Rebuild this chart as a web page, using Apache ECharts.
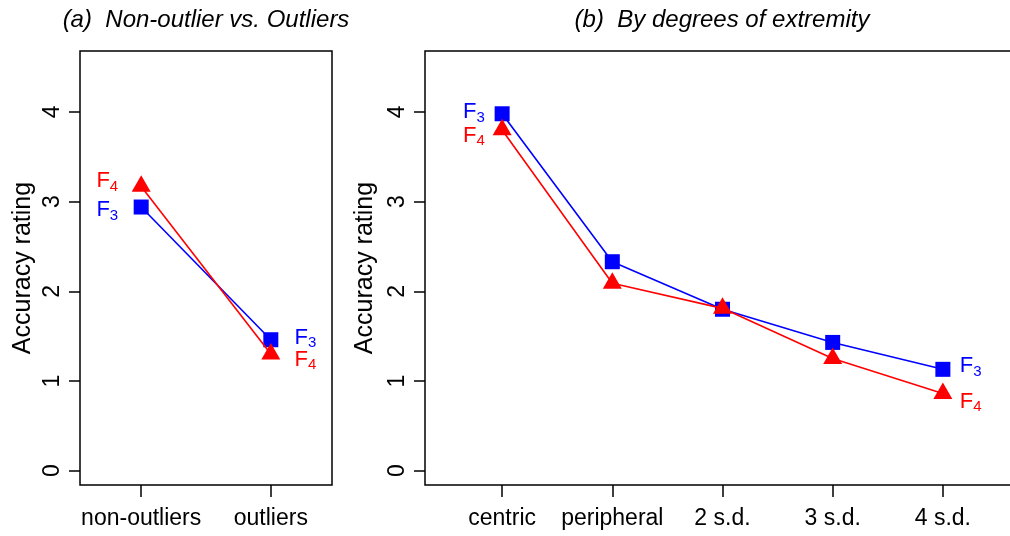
<!DOCTYPE html>
<html><head><meta charset="utf-8">
<script src="https://cdn.jsdelivr.net/npm/echarts@6/dist/echarts.min.js"></script>
<style>html,body{margin:0;padding:0;background:#fff}#c{width:1010px;height:536px}</style>
</head><body><div id="c"></div><script>
// ---- data ----
const groupsA = ['non-outliers', 'outliers'];
const f3A = [2.94, 1.46];
const f4A = [3.17, 1.30];
const groupsB = ['centric', 'peripheral', '2 s.d.', '3 s.d.', '4 s.d.'];
const f3B = [3.98, 2.33, 1.80, 1.43, 1.13];
const f4B = [3.80, 2.09, 1.81, 1.25, 0.86];
const yTicks = [0, 1, 2, 3, 4];
const seriesSubs = ['3', '4'];
const panelTitles = ['(a)  Non-outlier vs. Outliers', '(b)  By degrees of extremity'];
const yName = 'Accuracy rating';

// ---- style ----
const FONT = '"Liberation Sans", Arial, Helvetica, sans-serif';
const BLUE = '#0000FF', RED = '#FF0000';
const TRI_OFF = -2.8;

function lab(side, color, sub, dx, dy) {
  return {
    show: true, position: 'inside',
    align: side === 'left' ? 'right' : 'left', verticalAlign: 'middle',
    offset: [dx, dy],
    formatter: '{f|F}{s|' + sub + '}',
    rich: {
      f: { fontSize: 22, color: color, fontFamily: FONT },
      s: { fontSize: 15, color: color, fontFamily: FONT, padding: [11, 0, 0, 0] }
    }
  };
}

function mkData(vals, leftLab, rightLab) {
  return vals.map((v, i) => ({
    value: [i + 1, v],
    label: i === 0 ? leftLab : (i === vals.length - 1 ? rightLab : { show: false })
  }));
}

function xAx(gi, cats, min, max) {
  const vals = cats.map((_, i) => i + 1);
  return {
    type: 'value', gridIndex: gi, min: min, max: max,
    axisLine: { show: false, onZero: false }, splitLine: { show: false },
    axisTick: { show: true, length: 12, customValues: vals, lineStyle: { color: '#000', width: 1.5 } },
    axisLabel: { customValues: vals, formatter: v => cats[Math.round(v) - 1] || '',
      fontSize: 23, color: '#000', fontFamily: FONT, margin: 22 }
  };
}
function yAx(gi) {
  return {
    type: 'value', gridIndex: gi, min: -0.16, max: 4.68,
    axisLine: { show: false, onZero: false }, splitLine: { show: false },
    axisTick: { show: true, length: 11, customValues: yTicks, lineStyle: { color: '#000', width: 1.5 } },
    axisLabel: { customValues: yTicks, rotate: 90, fontSize: 23, color: '#000', fontFamily: FONT, margin: 16 },
    name: yName, nameLocation: 'middle', nameRotate: 90, nameGap: 44,
    nameTextStyle: { fontSize: 25, color: '#000', fontFamily: FONT }
  };
}
function sq(name, gi, data) {
  return { type: 'line', name: name, xAxisIndex: gi, yAxisIndex: gi, data: data,
    symbol: 'rect', symbolSize: 15, showSymbol: true, showAllSymbol: true, clip: false,
    lineStyle: { color: BLUE, width: 1.6 }, itemStyle: { color: BLUE }, emphasis: { disabled: true }, z: 2 };
}
function tri(name, gi, data) {
  return { type: 'line', name: name, xAxisIndex: gi, yAxisIndex: gi, data: data,
    symbol: 'triangle', symbolSize: [19, 16.5], symbolOffset: [0, TRI_OFF], showSymbol: true, showAllSymbol: true, clip: false,
    lineStyle: { color: RED, width: 1.6 }, itemStyle: { color: RED }, emphasis: { disabled: true }, z: 3 };
}

const chart = echarts.init(document.getElementById('c'), null, { renderer: 'canvas' });
chart.setOption({
  animation: false,
  backgroundColor: '#fff',
  textStyle: { fontFamily: FONT },
  grid: [
    { left: 80, top: 51, width: 252, height: 434, show: true, borderColor: '#000', borderWidth: 1.5, backgroundColor: 'transparent', containLabel: false, outerBoundsMode: 'none' },
    { left: 425, top: 51, width: 595, height: 434, show: true, borderColor: '#000', borderWidth: 1.5, backgroundColor: 'transparent', containLabel: false, outerBoundsMode: 'none' }
  ],
  xAxis: [xAx(0, groupsA, 0.528, 2.472), xAx(1, groupsB, 0.3, 5.7)],
  yAxis: [yAx(0), yAx(1)],
  graphic: [
    { type: 'text', x: 206, y: 20, style: { text: panelTitles[0], font: 'italic 24px ' + FONT, fill: '#000', textAlign: 'center', textVerticalAlign: 'middle' } },
    { type: 'text', x: 722, y: 20, style: { text: panelTitles[1], font: 'italic 24px ' + FONT, fill: '#000', textAlign: 'center', textVerticalAlign: 'middle' } }
  ],
  series: [
    sq('F3', 0, mkData(f3A, lab('left', BLUE, seriesSubs[0], -23, 3.3), lab('right', BLUE, seriesSubs[0], 23.7, -2))),
    tri('F4', 0, mkData(f4A, lab('left', RED, seriesSubs[1], -23, -2.2), lab('right', RED, seriesSubs[1], 23.7, 8.3))),
    sq('F3', 1, mkData(f3B, lab('left', BLUE, seriesSubs[0], -17.3, -1.6), lab('right', BLUE, seriesSubs[0], 17, -3.3))),
    tri('F4', 1, mkData(f4B, lab('left', RED, seriesSubs[1], -17.3, 8.4), lab('right', RED, seriesSubs[1], 17, 10.8)))
  ]
});
</script></body></html>
